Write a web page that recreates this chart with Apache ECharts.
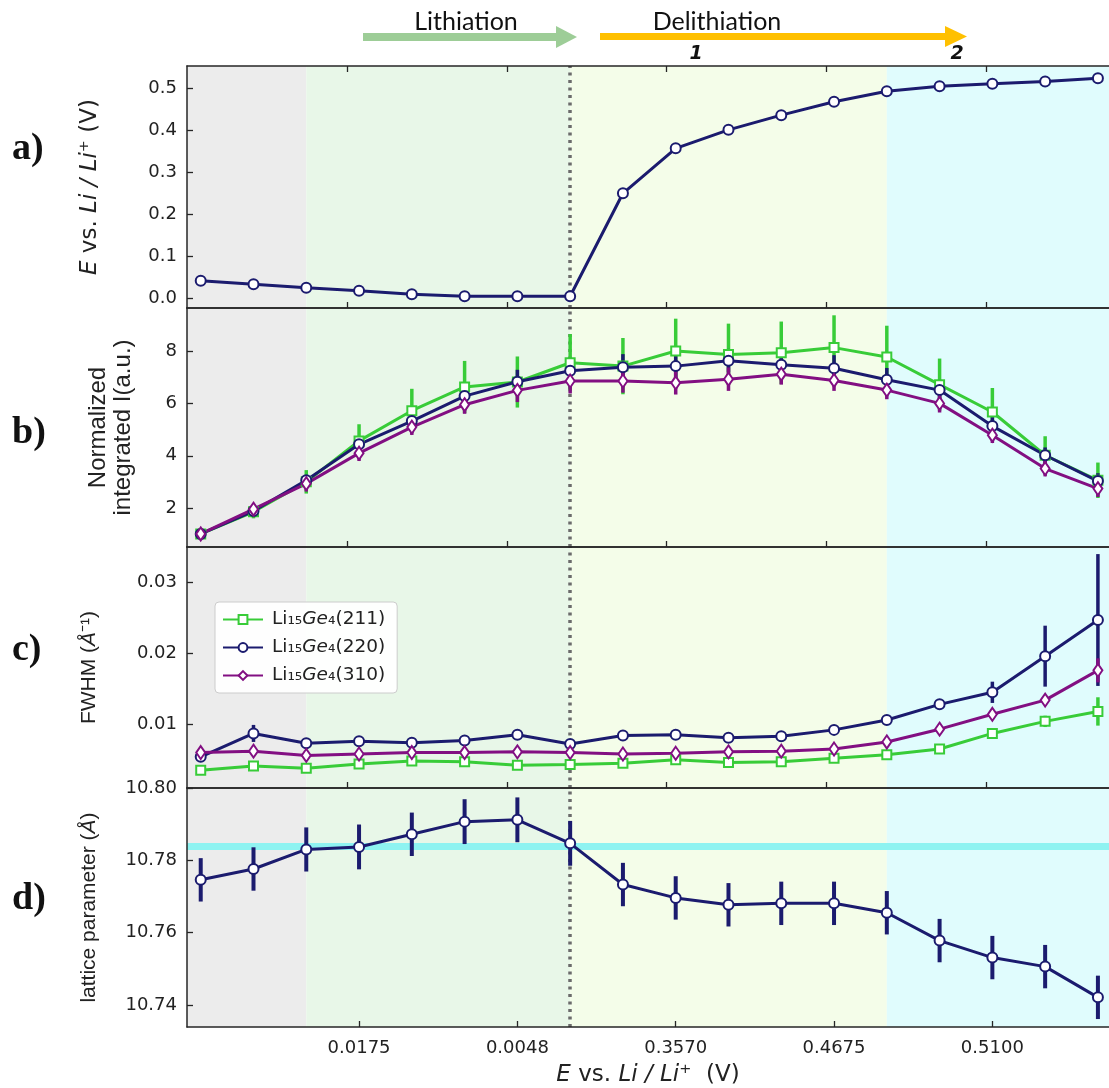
<!DOCTYPE html>
<html><head><meta charset="utf-8">
<script src="https://cdn.jsdelivr.net/npm/echarts@6/dist/echarts.min.js"></script>
<style>html,body{margin:0;padding:0;background:#fff}#c{width:1109px;height:1088px}</style>
</head><body><div id="c"></div>
<script>
// ---------------- data ----------------
const sampleIndex = [0,1,2,3,4,5,6,7,8,9,10,11,12,13,14,15,16,17];
const xTickPos = [3,6,9,12,15];
const xTickLabels = ['0.0175','0.0048','0.3570','0.4675','0.5100'];
const upperTickPos = [2.77,5.80,8.83,11.85,14.88];
const regionBounds = [2,7,13];          // gray | lithiation | delithiation 1 | delithiation 2
const switchIndex = 7;

const potential = [0.041,0.0325,0.024,0.017,0.009,0.004,0.004,0.004,0.249,0.356,0.400,0.435,0.467,0.492,0.504,0.510,0.515,0.523];

const seriesNames = ['Li15Ge4(211)','Li15Ge4(220)','Li15Ge4(310)'];
const intensity211 = [1.0,1.85,3.0,4.57,5.73,6.64,6.83,7.57,7.44,8.02,7.89,7.95,8.15,7.79,6.73,5.68,4.02,3.06];
const intensity220 = [1.0,1.88,3.06,4.44,5.33,6.29,6.84,7.26,7.40,7.44,7.65,7.49,7.36,6.92,6.52,5.14,4.02,3.03];
const intensity310 = [1.0,1.95,2.93,4.10,5.10,5.96,6.51,6.87,6.87,6.80,6.94,7.13,6.89,6.52,6.01,4.79,3.51,2.74];
const intensityErr211 = [0.15,0.25,0.45,0.64,0.84,1.0,0.98,1.1,1.08,1.24,1.18,1.2,1.24,1.2,1.0,0.92,0.73,0.68];
const intensityErr220 = [0.1,0.15,0.2,0.3,0.35,0.4,0.46,0.5,0.5,0.55,0.45,0.4,0.5,0.45,0.4,0.35,0.3,0.3];
const intensityErr310 = [0.1,0.15,0.3,0.3,0.3,0.35,0.45,0.48,0.45,0.45,0.45,0.4,0.4,0.35,0.35,0.3,0.3,0.32];

const fwhm211 = [0.0035,0.0041,0.0038,0.0044,0.0048,0.0047,0.0042,0.0043,0.0045,0.0050,0.0046,0.0047,0.0052,0.0057,0.0065,0.0087,0.0104,0.0118];
const fwhm220 = [0.0054,0.0087,0.0073,0.0076,0.0074,0.0077,0.0085,0.0072,0.0084,0.0085,0.0081,0.0083,0.0092,0.0106,0.0128,0.0145,0.0196,0.0247];
const fwhm310 = [0.0060,0.0062,0.0056,0.0058,0.0060,0.0060,0.0061,0.0060,0.0058,0.0059,0.0061,0.0062,0.0065,0.0075,0.0093,0.0114,0.0134,0.0176];
const fwhmErr211 = [0.0002,0.0002,0.0002,0.0002,0.0002,0.0002,0.0002,0.0002,0.0002,0.0002,0.0002,0.0002,0.0002,0.0002,0.0003,0.0004,0.0008,0.0020];
const fwhmErr220 = [0.0004,0.0012,0.0003,0.0003,0.0003,0.0003,0.0003,0.0003,0.0003,0.0003,0.0003,0.0003,0.0003,0.0003,0.0004,0.0015,0.0043,0.0093];
const fwhmErr310 = [0.0002,0.0003,0.0002,0.0002,0.0002,0.0002,0.0002,0.0002,0.0002,0.0002,0.0002,0.0002,0.0002,0.0002,0.0003,0.0004,0.0006,0.0017];

const lattice = [10.7746,10.7776,10.7830,10.7837,10.7872,10.7907,10.7912,10.7847,10.7733,10.7696,10.7677,10.7681,10.7681,10.7655,10.7578,10.7531,10.7506,10.7421];
const latticeErr = [0.006,0.006,0.0061,0.0062,0.006,0.0062,0.0062,0.0062,0.006,0.006,0.006,0.006,0.006,0.006,0.006,0.006,0.006,0.006];
const referenceLattice = 10.7839;

const yTicksA = [0,0.1,0.2,0.3,0.4,0.5];
const yTicksB = [2,4,6,8];
const yTicksC = [0.01,0.02,0.03];
const yTicksD = [10.74,10.76,10.78,10.80];

// ---------------- styling ----------------
const NAVY = '#1b1b6e', GREEN = '#38cc38', PURPLE = '#820f82';
const AX = '#262626';
const xMin = -0.26, xMax = 17.21;
const grids = [
  {left:187, width:923, top:66,  height:242},
  {left:187, width:923, top:308, height:239},
  {left:187, width:923, top:547, height:241},
  {left:187, width:923, top:788, height:240}
];
const yRanges = [[-0.024,0.552],[0.5,9.67],[0.001,0.035],[10.7339,10.80]];
const yTicks = [yTicksA,yTicksB,yTicksC,yTicksD];
const yDec = [1,0,2,2];

const richName = {
  i:{fontStyle:'italic',fontFamily:'DejaVu Sans',fontSize:23,color:'#222'},
  n:{fontFamily:'DejaVu Sans',fontSize:23,color:'#222'},
  li:{fontStyle:'italic',fontFamily:'Liberation Sans',fontSize:24,color:'#222'},
  ln:{fontFamily:'Liberation Sans',fontSize:24,color:'#222'},
  si:{fontStyle:'italic',fontFamily:'Liberation Sans',fontSize:21,color:'#222'},
  sn:{fontFamily:'Liberation Sans',fontSize:21,color:'#222'}
};
const yNames = [
  '{i|E}{n| vs. }{i|Li / Li}{n|⁺ (V)}',
  '{ln|Normalized}\n{ln|integrated I(a.u.)}',
  '{sn|FWHM (}{si|Å}{sn|⁻¹)}',
  '{sn|lattice parameter (}{si|Å}{sn|)}'
];
const yGaps = [84,51,85,85];

const xAxes = [], yAxes = [];
grids.forEach((g,k)=>{
  const isLast = k===3;
  xAxes.push({
    gridIndex:k, type:'value', min:xMin, max:xMax, position:'bottom', z:10,
    axisLine:{show:true,onZero:false,lineStyle:{color:AX,width:1.5}},
    axisTick:{show:true,inside:true,length:6,lineStyle:{color:AX,width:1.3},
      customValues: isLast ? xTickPos : upperTickPos},
    axisLabel:{show:isLast, customValues:xTickPos, margin:12,
      fontFamily:'DejaVu Sans', fontSize:18, color:'#222',
      formatter:(v)=>{const i=xTickPos.indexOf(v);return i>=0?xTickLabels[i]:'';}},
    splitLine:{show:false},
    name: isLast ? '{i|E}{n| vs. }{i|Li / Li}{n|⁺  (V)}' : '',
    nameLocation:'middle', nameGap:37, nameTextStyle:{rich:richName}
  });
  xAxes.push({
    gridIndex:k, type:'value', min:xMin, max:xMax, position:'top', z:10,
    axisLine:{show:true,onZero:false,lineStyle:{color:AX,width:1.5}},
    axisTick:{show:k===0,inside:true,length:6,lineStyle:{color:AX,width:1.3},customValues:upperTickPos},
    axisLabel:{show:false}, splitLine:{show:false}
  });
  yAxes.push({
    gridIndex:k, type:'value', min:yRanges[k][0], max:yRanges[k][1], position:'left', z:10,
    axisLine:{show:true,onZero:false,lineStyle:{color:AX,width:1.5}},
    axisTick:{show:true,inside:true,length:6,lineStyle:{color:AX,width:1.3},customValues:yTicks[k]},
    axisLabel:{show:true,customValues:yTicks[k],margin:10,fontFamily:'DejaVu Sans',fontSize:18,color:'#222',
      formatter:(v)=>v.toFixed(yDec[k])},
    splitLine:{show:false},
    name:yNames[k], nameLocation:'middle', nameRotate:90, nameGap:yGaps[k],
    nameTextStyle:{rich:richName, lineHeight:25}
  });
});

const regionColors = ['#ececec','#e8f7e8','#f4fde9','#e0fcfd'];
function backgroundSeries(k, ys){
  const edges = [xMin].concat(regionBounds).concat([xMax]);
  const areas = [];
  for(let i=0;i<edges.length-1;i++){
    areas.push([{xAxis:edges[i], itemStyle:{color:regionColors[i]}},{xAxis:edges[i+1]}]);
  }
  const lines = [{xAxis:switchIndex, lineStyle:{color:'#6b6b6b',width:3.5,type:[3,4.5]}}];
  if(k===3) lines.push({yAxis:referenceLattice, lineStyle:{color:'#8ef3f1',width:7,type:'solid'}});
  return {
    type:'line', xAxisIndex:2*k, yAxisIndex:k, silent:true, z:1,
    data: sampleIndex.map((x,i)=>[x,ys[i]]),
    showSymbol:false, lineStyle:{width:0,opacity:0},
    markArea:{silent:true, z:0.5, precision:6, data:areas},
    markLine:{silent:true, z:1, precision:6, symbol:['none','none'], label:{show:false}, data:lines}
  };
}

function errSeries(k, vals, errs, color, w){
  return {
    type:'custom', xAxisIndex:2*k, yAxisIndex:k, silent:true, z:3,
    data: sampleIndex.map((x,i)=>[x, vals[i], errs[i]]),
    encode:{x:0,y:1},
    renderItem:(params, api)=>{
      const x = api.value(0), v = api.value(1), e = api.value(2);
      const p1 = api.coord([x, v+e]), p2 = api.coord([x, v-e]);
      return {type:'line', shape:{x1:p1[0],y1:p1[1],x2:p2[0],y2:p2[1]},
              style:{stroke:color, lineWidth:w}};
    }
  };
}
function lineSeries(k, name, vals, color, symbol, size){
  return {
    type:'line', name:name, xAxisIndex:2*k, yAxisIndex:k, z:3,
    data: sampleIndex.map((x,i)=>[x, vals[i]]),
    symbol:symbol, symbolSize:size, showAllSymbol:true,
    lineStyle:{color:color,width:3},
    itemStyle:{color:'#ffffff', borderColor:color, borderWidth:2},
    emphasis:{disabled:true}
  };
}

const series = [];
// panel a
series.push(backgroundSeries(0, potential));
series.push(lineSeries(0, 'E', potential, NAVY, 'circle', 10));
// panel b
series.push(backgroundSeries(1, intensity220));
series.push(errSeries(1, intensity211, intensityErr211, GREEN, 3.5));
series.push(lineSeries(1, seriesNames[0], intensity211, GREEN, 'rect', 9));
series.push(errSeries(1, intensity220, intensityErr220, NAVY, 3.5));
series.push(lineSeries(1, seriesNames[1], intensity220, NAVY, 'circle', 10));
series.push(errSeries(1, intensity310, intensityErr310, PURPLE, 3.5));
series.push(lineSeries(1, seriesNames[2], intensity310, PURPLE, 'diamond', [9,13]));
// panel c
series.push(backgroundSeries(2, fwhm220));
series.push(errSeries(2, fwhm211, fwhmErr211, GREEN, 3.5));
series.push(lineSeries(2, seriesNames[0], fwhm211, GREEN, 'rect', 9));
series.push(errSeries(2, fwhm220, fwhmErr220, NAVY, 3.5));
series.push(lineSeries(2, seriesNames[1], fwhm220, NAVY, 'circle', 10));
series.push(errSeries(2, fwhm310, fwhmErr310, PURPLE, 3.5));
series.push(lineSeries(2, seriesNames[2], fwhm310, PURPLE, 'diamond', [9,13]));
// panel d
series.push(backgroundSeries(3, lattice));
series.push(errSeries(3, lattice, latticeErr, NAVY, 4));
series.push(lineSeries(3, 'lattice', lattice, NAVY, 'circle', 10));

const legendRich = {
  n:{fontFamily:'DejaVu Sans',fontSize:18.5,color:'#222'},
  i:{fontFamily:'DejaVu Sans',fontSize:18.5,fontStyle:'italic',color:'#222'}
};
function legendLabel(name){
  const m = name.match(/\((\d+)\)/);
  return '{n|Li₁₅}{i|Ge}{n|₄(' + m[1] + ')}';
}

const panelLabels = ['a)','b)','c)','d)'];
const panelLabelY = [152,436,653,902];
const graphics = panelLabels.map((t,i)=>({
  type:'text', left:12, top:panelLabelY[i]-22, silent:true,
  style:{text:t, font:'bold 38px "Liberation Serif", serif', fill:'#111'}
}));
graphics.push(
  {type:'text', x:466, y:22, silent:true, style:{text:'Lithiation', font:'25px Lato, "Liberation Sans", sans-serif', fill:'#111', align:'center', verticalAlign:'middle'}},
  {type:'text', x:717, y:22, silent:true, style:{text:'Delithiation', font:'25px Lato, "Liberation Sans", sans-serif', fill:'#111', align:'center', verticalAlign:'middle'}},
  {type:'rect', silent:true, shape:{x:363,y:33,width:194,height:8}, style:{fill:'#9dcd97'}},
  {type:'polygon', silent:true, shape:{points:[[556,26],[577,37],[556,48]]}, style:{fill:'#9dcd97'}},
  {type:'rect', silent:true, shape:{x:600,y:33,width:346,height:7}, style:{fill:'#ffc000'}},
  {type:'polygon', silent:true, shape:{points:[[945,26],[967,36.5],[945,47]]}, style:{fill:'#ffc000'}},
  {type:'text', x:696, y:54, silent:true, style:{text:'1', font:'italic bold 19px "DejaVu Sans", sans-serif', fill:'#111', align:'center', verticalAlign:'middle'}},
  {type:'text', x:957, y:54, silent:true, style:{text:'2', font:'italic bold 19px "DejaVu Sans", sans-serif', fill:'#111', align:'center', verticalAlign:'middle'}}
);

const option = {
  animation:false,
  backgroundColor:'#ffffff',
  grid: grids.map(g=>Object.assign({containLabel:false}, g)),
  xAxis: xAxes,
  yAxis: yAxes,
  legend:{
    data: seriesNames, orient:'vertical', left:215, top:602,
    itemWidth:40, itemHeight:11, itemGap:9,
    backgroundColor:'rgba(255,255,255,0.92)', borderColor:'#cccccc', borderWidth:1, borderRadius:4,
    padding:[8,12,8,7],
    selectedMode:false,
    formatter: legendLabel,
    textStyle:{rich:legendRich, padding:[0,0,0,4]}
  },
  series: series,
  graphic: graphics
};
const chart = echarts.init(document.getElementById('c'), null, {renderer:'canvas'});
chart.setOption(option);
</script>
</body></html>
